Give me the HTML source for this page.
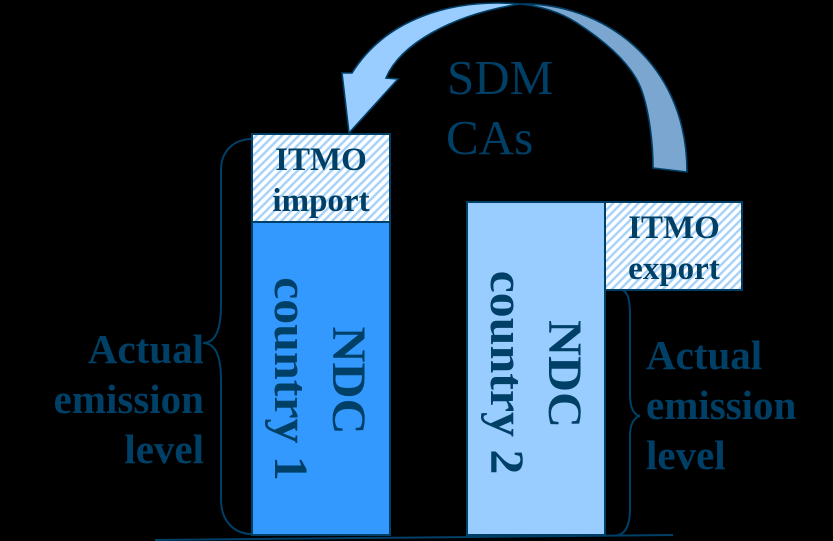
<!DOCTYPE html>
<html>
<head>
<meta charset="utf-8">
<style>
html,body{margin:0;padding:0;background:#000;width:833px;height:541px;overflow:hidden}
svg{display:block}
text{font-family:"Liberation Serif",serif;fill:#003F66}
.b{font-weight:bold}
</style>
</head>
<body>
<svg width="833" height="541" viewBox="0 0 833 541" xmlns="http://www.w3.org/2000/svg">
<defs>
<pattern id="h" width="6" height="6" patternUnits="userSpaceOnUse" patternTransform="rotate(45)">
<rect width="6" height="6" fill="#fff"/>
<rect width="2.4" height="6" fill="#A6D2FA"/>
</pattern>
</defs>
<rect width="833" height="541" fill="#000"/>

<path d="M520 4 C600 2 687 60 687 172 L653 168 C653 140 648 100 637 80 C625 58 600 38 577 23 C560 12 540 6 520 4 Z" fill="#7BA6CF" stroke="#003F66" stroke-width="1.6"/>
<path d="M520 4 C450 -2 385 20 352 73 L342 73 L349 133 L398 79 L386 78 C400 45 450 15 520 4 Z" fill="#99CCFF" stroke="#003F66" stroke-width="1.6"/>

<path d="M252 139 C235 139 221 150 221 170 L221 305 C221 330 215 343 203 343 C215 343 221 356 221 380 L221 500 C221 522 235 534 252 534" fill="none" stroke="#003F66" stroke-width="2"/>
<path d="M622 290 C628 292 630 300 630 315 L630 395 C630 408 634 415 640 416 C634 417 630 425 630 435 L630 510 C630 525 625 534 618 535" fill="none" stroke="#003F66" stroke-width="2"/>

<rect x="252" y="222" width="138" height="313" fill="#3399FF" stroke="#003F66" stroke-width="2"/>
<rect x="252" y="134" width="138" height="88" fill="url(#h)" stroke="#003F66" stroke-width="2"/>
<rect x="467" y="202" width="138" height="333" fill="#99CCFF" stroke="#003F66" stroke-width="2"/>
<rect x="605" y="202" width="137" height="88" fill="url(#h)" stroke="#003F66" stroke-width="2"/>
<line x1="155" y1="540" x2="673" y2="535" stroke="#003F66" stroke-width="2"/>

<text x="447" y="94" font-size="49">SDM</text>
<text x="446" y="154" font-size="49">CAs</text>

<text class="b" x="321" y="170" font-size="33" text-anchor="middle">ITMO</text>
<text class="b" x="321" y="211" font-size="33" text-anchor="middle">import</text>
<text class="b" x="674" y="238" font-size="33" text-anchor="middle">ITMO</text>
<text class="b" x="674" y="279" font-size="33" text-anchor="middle">export</text>

<text class="b" font-size="48" text-anchor="middle" transform="translate(333 380.5) rotate(90) scale(1.04 1)">NDC</text>
<text class="b" font-size="48" text-anchor="middle" transform="translate(275 379) rotate(90) scale(1.04 1)">country 1</text>
<text class="b" font-size="48" text-anchor="middle" transform="translate(549 374) rotate(90) scale(1.04 1)">NDC</text>
<text class="b" font-size="48" text-anchor="middle" transform="translate(491 372.5) rotate(90) scale(1.04 1)">country 2</text>

<text class="b" x="204" y="363" font-size="41" text-anchor="end">Actual</text>
<text class="b" x="204" y="413" font-size="41" text-anchor="end">emission</text>
<text class="b" x="204" y="463" font-size="41" text-anchor="end">level</text>

<text class="b" x="646" y="369" font-size="41">Actual</text>
<text class="b" x="646" y="419" font-size="41">emission</text>
<text class="b" x="646" y="469" font-size="41">level</text>
</svg>
</body>
</html>
